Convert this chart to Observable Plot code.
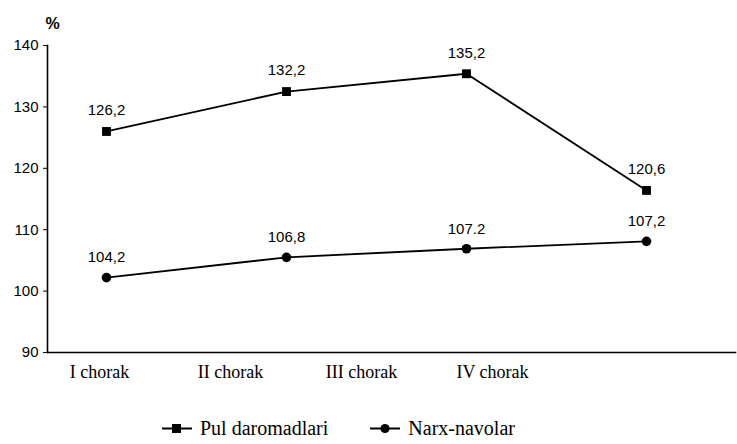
<!DOCTYPE html>
<html>
<head>
<meta charset="utf-8">
<script src="https://cdn.jsdelivr.net/npm/d3@7"></script>
<script src="https://cdn.jsdelivr.net/npm/@observablehq/plot@0.6"></script>
<style>
  body { margin: 0; background: #fff; }
  #wrap { width: 737px; }
  .legend { display: flex; align-items: center; margin-top: 33px; padding-left: 162px; color: #000; }
  .legend .item { display: flex; align-items: center; margin-right: 42px; }
  .legend svg { margin-right: 8px; }
  .legend span { font-family: 'Liberation Serif', 'Times New Roman', serif; font-size: 20px; }
</style>
</head>
<body>
<div id="wrap"></div>
<script>
const categories = ["I chorak", "II chorak", "III chorak", "IV chorak"];
const seriesNames = ["Pul daromadlari", "Narx-navolar"];
const pulValues = [126.0, 132.5, 135.4, 116.4];
const pulLabels = ["126,2", "132,2", "135,2", "120,6"];
const narxValues = [102.2, 105.5, 106.9, 108.1];
const narxLabels = ["104,2", "106,8", "107.2", "107,2"];
const yTicks = [90, 100, 110, 120, 130, 140];

const pulData = categories.map((c, i) => ({cat: c, value: pulValues[i], label: pulLabels[i]}));
const narxData = categories.map((c, i) => ({cat: c, value: narxValues[i], label: narxLabels[i]}));

const main = Plot.plot({
  width: 737,
  height: 360,
  marginTop: 45,
  marginBottom: 8,
  marginLeft: 47,
  marginRight: 2,
  style: {fontFamily: "Liberation Sans, Arial, sans-serif", fontSize: "15px", color: "#000", background: "#fff"},
  x: {type: "point", domain: categories, range: [106, 646], padding: 0, axis: null},
  y: {domain: [90, 140], ticks: yTicks, tickSize: 4, tickPadding: 5, label: null},
  marks: [
    Plot.frame({anchor: "left", stroke: "#000", strokeWidth: 1.6}),
    Plot.frame({anchor: "bottom", stroke: "#000", strokeWidth: 1.6}),
    Plot.text(["%"], {frameAnchor: "top-left", dx: -2, dy: -28, fontSize: 16, fontWeight: "bold"}),
    Plot.line(pulData, {x: "cat", y: "value", stroke: "#000", strokeWidth: 1.8}),
    Plot.dot(pulData, {x: "cat", y: "value", symbol: "square", r: 5, fill: "#000", stroke: null}),
    Plot.text(pulData, {x: "cat", y: "value", text: "label", dy: -21, fontSize: 15}),
    Plot.line(narxData, {x: "cat", y: "value", stroke: "#000", strokeWidth: 1.8}),
    Plot.dot(narxData, {x: "cat", y: "value", symbol: "circle", r: 4.8, fill: "#000", stroke: null}),
    Plot.text(narxData, {x: "cat", y: "value", text: "label", dy: -20, fontSize: 15})
  ]
});

const axisRow = Plot.plot({
  width: 737,
  height: 24,
  marginTop: 0,
  marginBottom: 0,
  marginLeft: 47,
  marginRight: 2,
  style: {fontFamily: "Liberation Serif, 'DejaVu Serif', serif", fontSize: "18px", color: "#000", background: "#fff"},
  x: {type: "point", domain: categories, range: [98, 493], padding: 0, axis: null},
  y: {axis: null},
  marks: [
    Plot.text(categories, {x: d => d, frameAnchor: "middle", fontSize: 18})
  ]
});

const wrap = document.getElementById("wrap");
wrap.appendChild(main);
wrap.appendChild(axisRow);

const legend = document.createElement("div");
legend.className = "legend";
const symbols = ["square", "circle"];
seriesNames.forEach((name, i) => {
  const item = document.createElement("div");
  item.className = "item";
  const sym = symbols[i] === "square"
    ? '<rect x="10" y="3" width="9" height="9" fill="#000"/>'
    : '<circle cx="15" cy="7.5" r="4.6" fill="#000"/>';
  item.innerHTML = '<svg width="30" height="15"><line x1="0" y1="7.5" x2="30" y2="7.5" stroke="#000" stroke-width="2"/>' + sym + '</svg><span>' + name + '</span>';
  legend.appendChild(item);
});
wrap.appendChild(legend);
</script>
</body>
</html>
